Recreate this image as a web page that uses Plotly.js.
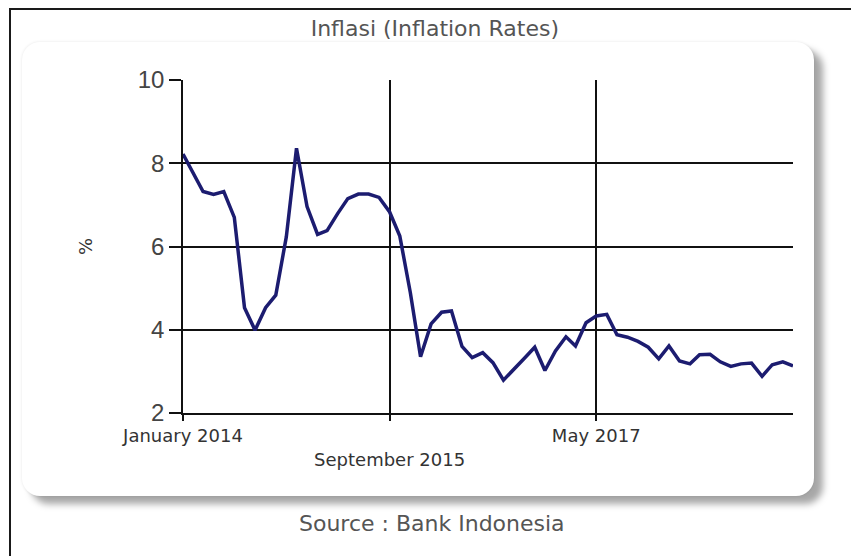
<!DOCTYPE html>
<html>
<head>
<meta charset="utf-8">
<script src="https://cdn.plot.ly/plotly-3.0.1.min.js"></script>
<style>
  html, body { margin: 0; padding: 0; background: #ffffff; overflow: hidden; }
  #wrap { position: relative; width: 851px; height: 556px; overflow: hidden; background: #ffffff; }
  #lineTop { position: absolute; left: 9px; top: 8px; width: 842px; height: 2px; background: #1a1a1a; }
  #lineLeft { position: absolute; left: 9px; top: 8px; width: 2px; height: 548px; background: #1a1a1a; }
  #panel { position: absolute; left: 22px; top: 42px; width: 792px; height: 454px;
           border-radius: 18px; background: #ffffff;
           box-shadow: 0 0 3px rgba(0,0,0,0.10), 9px 8px 7px rgba(0,0,0,0.35); }
  #chart { position: absolute; left: 0; top: 0; width: 851px; height: 556px; }
</style>
</head>
<body>
<div id="wrap">
  <div id="lineTop"></div>
  <div id="lineLeft"></div>
  <div id="panel"></div>
  <div id="chart"></div>
</div>
<script>
// Monthly year-on-year inflation, Indonesia (%), Jan 2014 - Dec 2018
const months = [
  '2014-01-01','2014-02-01','2014-03-01','2014-04-01','2014-05-01','2014-06-01',
  '2014-07-01','2014-08-01','2014-09-01','2014-10-01','2014-11-01','2014-12-01',
  '2015-01-01','2015-02-01','2015-03-01','2015-04-01','2015-05-01','2015-06-01',
  '2015-07-01','2015-08-01','2015-09-01','2015-10-01','2015-11-01','2015-12-01',
  '2016-01-01','2016-02-01','2016-03-01','2016-04-01','2016-05-01','2016-06-01',
  '2016-07-01','2016-08-01','2016-09-01','2016-10-01','2016-11-01','2016-12-01',
  '2017-01-01','2017-02-01','2017-03-01','2017-04-01','2017-05-01','2017-06-01',
  '2017-07-01','2017-08-01','2017-09-01','2017-10-01','2017-11-01','2017-12-01',
  '2018-01-01','2018-02-01','2018-03-01','2018-04-01','2018-05-01','2018-06-01',
  '2018-07-01','2018-08-01','2018-09-01','2018-10-01','2018-11-01','2018-12-01'
];
const inflation = [
  8.22, 7.75, 7.32, 7.25, 7.32, 6.70, 4.53, 3.99, 4.53, 4.83, 6.23, 8.36,
  6.96, 6.29, 6.38, 6.79, 7.15, 7.26, 7.26, 7.18, 6.83, 6.25, 4.89, 3.35,
  4.14, 4.42, 4.45, 3.60, 3.33, 3.45, 3.21, 2.79, 3.07, 3.31, 3.58, 3.02,
  3.49, 3.83, 3.61, 4.17, 4.33, 4.37, 3.88, 3.82, 3.72, 3.58, 3.30, 3.61,
  3.25, 3.18, 3.40, 3.41, 3.23, 3.12, 3.18, 3.20, 2.88, 3.16, 3.23, 3.13
];
const xTickVals = ['2014-01-01', '2015-09-01', '2017-05-01'];
const xTickText = ['January 2014', ' <br>September 2015', 'May 2017'];
const yTickVals = [2, 4, 6, 8, 10];
const chartTitle = 'Inflasi (Inflation Rates)';
const yTitle = '%';
const sourceText = 'Source : Bank Indonesia';

const trace = {
  x: months,
  y: inflation,
  type: 'scatter',
  mode: 'lines',
  line: { color: '#1c1c70', width: 3.5 },
  hoverinfo: 'x+y'
};

const layout = {
  width: 851,
  height: 556,
  paper_bgcolor: 'rgba(0,0,0,0)',
  plot_bgcolor: 'rgba(0,0,0,0)',
  margin: { l: 183, r: 58, t: 80, b: 143 },
  showlegend: false,
  font: { family: 'DejaVu Sans, Verdana, sans-serif', color: '#333333' },
  title: {
    text: chartTitle,
    x: 0.511, xanchor: 'center',
    y: 0.95, yanchor: 'middle', yref: 'container',
    font: { family: 'DejaVu Sans, Verdana, sans-serif', size: 22, color: '#555555' }
  },
  xaxis: {
    type: 'date',
    range: ['2014-01-01', '2018-12-01'],
    tickmode: 'array',
    tickvals: xTickVals,
    ticktext: xTickText,
    tickangle: 0,
    ticks: 'outside', ticklen: 6, tickwidth: 1.5, tickcolor: '#111111',
    showgrid: true, gridcolor: '#111111', gridwidth: 1.6,
    showline: true, linecolor: '#111111', linewidth: 1.6,
    zeroline: false,
    tickfont: { family: 'DejaVu Sans, Verdana, sans-serif', size: 18, color: '#333333' },
    automargin: false
  },
  yaxis: {
    range: [2, 10],
    tickmode: 'array',
    tickvals: yTickVals,
    ticks: 'outside', ticklen: 12, tickwidth: 1.6, tickcolor: '#111111',
    showgrid: true, gridcolor: '#111111', gridwidth: 1.6,
    showline: true, linecolor: '#111111', linewidth: 1.6,
    zeroline: false,
    tickfont: { family: 'Liberation Sans, Arial, sans-serif', size: 24, color: '#444444' },
    title: { text: yTitle, standoff: 40,
             font: { family: 'DejaVu Sans, Verdana, sans-serif', size: 18, color: '#333333' } },
    automargin: false
  },
  annotations: [{
    text: sourceText,
    xref: 'paper', yref: 'paper',
    x: 0.408, y: -0.333,
    xanchor: 'center', yanchor: 'middle',
    showarrow: false,
    font: { family: 'DejaVu Sans, Verdana, sans-serif', size: 22, color: '#555555' }
  }]
};

Plotly.newPlot('chart', [trace], layout, { displayModeBar: false });
</script>
</body>
</html>
